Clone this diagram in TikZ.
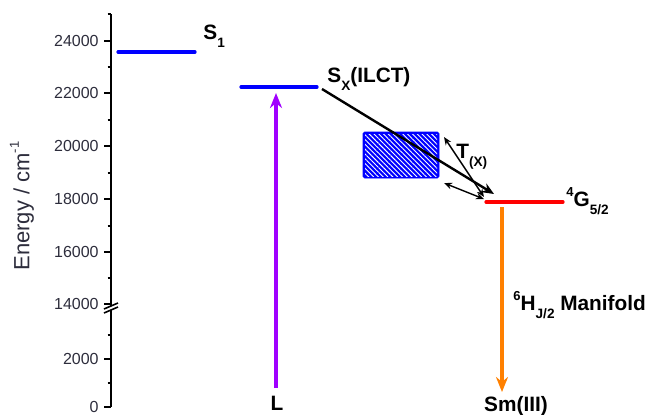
\documentclass[tikz,border=0pt]{standalone}
\usepackage{fontspec}
\setmainfont{Liberation Sans}
\usetikzlibrary{arrows.meta, positioning, patterns.meta}
\definecolor{lvlblue}{RGB}{0,0,255}
\definecolor{lvlred}{RGB}{255,0,0}
\definecolor{excviolet}{RGB}{160,0,255}
\definecolor{emorange}{RGB}{255,128,0}
\definecolor{ticktext}{RGB}{45,45,60}
\newcommand{\lowidx}[1]{\raisebox{-0.8ex}{\fontsize{6.8}{7}\selectfont #1}}
\newcommand{\upidx}[1]{\raisebox{0.9ex}{\fontsize{6.5}{7}\selectfont #1}}
\tikzset{
  lvl/.style={line width=1.6pt, line cap=round},
  lbl/.style={font=\fontsize{10.4}{12}\selectfont\bfseries, inner sep=0pt},
  tcklbl/.style={font=\fontsize{8}{9}\selectfont, text=ticktext,
    anchor=east, inner sep=0pt},
  xfer/.style={-{Stealth[length=6pt,width=5pt]}, line width=1.2pt},
  xchg/.style={{Stealth[length=4pt,width=3.2pt]}-{Stealth[length=4pt,width=3.2pt]},
    line width=0.7pt},
  vert/.style={-{Stealth[length=7.5pt,width=6pt]}, line width=1.7pt},
}

\begin{document}
\begin{tikzpicture}[x=0.5pt, y=-0.5pt]
  \useasboundingbox (0,0) rectangle (647,414);

  % Energy axis (broken between 14000 and 4000)
  \draw[line width=1pt] (111,14) -- (111,306);
  \draw[line width=1pt] (111,310) -- (111,406.7);
  \draw[line width=0.8pt] (104,309) -- (118,303);
  \draw[line width=0.8pt] (104,313) -- (118,307);
  \foreach \v/\yy in {24000/40.7, 22000/93, 20000/145.7, 18000/199,
                      16000/251.7, 14000/304, 2000/359, 0/406.7}{
    \draw[line width=1pt] (104,\yy) -- (111,\yy);
    \node[tcklbl] at (99,\yy) {\v};
  }
  \foreach \yy in {14, 67, 119.5, 172.5, 225.5, 278, 335, 383}
    \draw[line width=1pt] (107.5,\yy) -- (111,\yy);
  \node[rotate=90, font=\fontsize{11}{13}\selectfont, text=ticktext] (ylbl)
       at (22,206) {Energy / cm\upidx{-1}};

  % Energy levels
  \coordinate (s1L) at (118,52);  \coordinate (s1R) at (195,52);
  \coordinate (sxL) at (241,87);  \coordinate (sxR) at (317,87);
  \coordinate (gL)  at (486,202); \coordinate (gR)  at (563,202);
  \draw[lvl, lvlblue] (s1L) -- (s1R);
  \draw[lvl, lvlblue] (sxL) -- (sxR);
  \draw[lvl, lvlred]  (gL) -- (gR);

  % Triplet band
  \draw[lvlblue, fill=lvlblue, rounded corners=0.8pt] (363,132) rectangle (439,178);
  \fill[pattern={Lines[angle=-45, distance=1.7pt, line width=0.45pt]},
        pattern color=white] (365,134) rectangle (437,176);

  % Labels
  \node[lbl, anchor=base west] (s1lbl) at (203,39) {S\lowidx{1}};
  \node[lbl, anchor=base west] (sxlbl) at (327,82) {S\lowidx{X}(ILCT)};
  \node[lbl, anchor=base west] (tlbl)  at (456,158) {T\lowidx{(X)}};
  \node[lbl, anchor=base west] (glbl)  at (566,206) {\upidx{4}G\lowidx{5/2}};
  \node[lbl, anchor=base west] (hlbl)  at (513,310) {\upidx{6}H\lowidx{J/2} Manifold};
  \node[lbl, anchor=base] (smlbl) at (516,411) {Sm(III)};
  \node[lbl, anchor=base] (llbl)  at (277,410) {L};

  % Excitation and emission
  \coordinate (lfoot) at (276,388);  \coordinate (sxfoot) at (276,93);
  \coordinate (gfoot) at (502,207);  \coordinate (smtip) at (502,392);
  \draw[vert, excviolet] (lfoot) -- (sxfoot);
  \draw[vert, emorange] (gfoot) -- (smtip);

  % Energy transfer
  \coordinate (sxtail) at (322,89);  \coordinate (gtip) at (494,194);
  \coordinate (tTop) at (444,137);   \coordinate (gA) at (484,197);
  \coordinate (tBot) at (444,183);   \coordinate (gB) at (484,199);
  \draw[xfer] (sxtail) -- (gtip);
  \draw[xchg] (tTop) -- (gA);
  \draw[xchg] (tBot) -- (gB);
\end{tikzpicture}
\end{document}
